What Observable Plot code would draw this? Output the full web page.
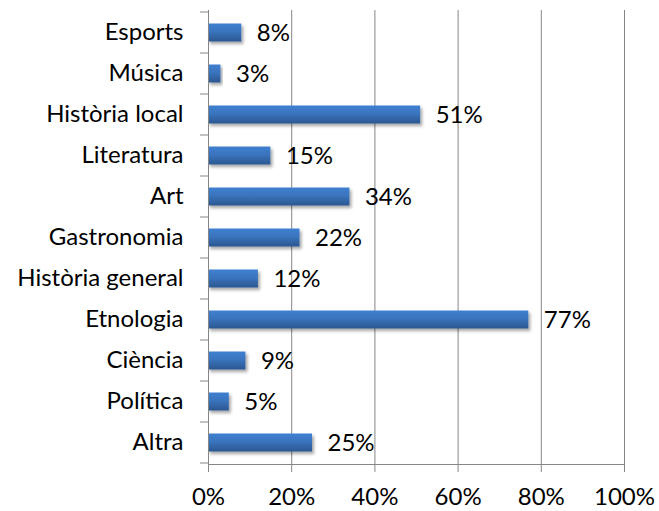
<!DOCTYPE html>
<html>
<head>
<meta charset="utf-8">
<script src="https://cdn.jsdelivr.net/npm/d3@7"></script>
<script src="https://cdn.jsdelivr.net/npm/@observablehq/plot@0.6"></script>
<style>
  body { margin: 0; background: #fff; }
</style>
</head>
<body>
<div id="chart"></div>
<script>
const categories = ["Esports", "Música", "Història local", "Literatura", "Art", "Gastronomia", "Història general", "Etnologia", "Ciència", "Política", "Altra"];
const values = [8, 3, 51, 15, 34, 22, 12, 77, 9, 5, 25];
const xTicks = [0, 20, 40, 60, 80, 100];

const data = categories.map((c, i) => ({category: c, value: values[i]}));

const plot = Plot.plot({
  width: 659,
  height: 511,
  marginLeft: 208,
  marginRight: 35,
  marginTop: 10,
  marginBottom: 47,
  x: {domain: [0, 100], label: null},
  y: {domain: categories, padding: 0, label: null},
  style: {fontFamily: "Lato, 'Open Sans', sans-serif", fontSize: "24px", color: "#000", background: "#fff", overflow: "visible"},
  marks: [
    Plot.gridX(xTicks.slice(1), {stroke: "#868686", strokeOpacity: 1}),
    Plot.barX(data, {x: "value", y: "category", fill: "url(#barGrad)", insetTop: 11.5, insetBottom: 11.5}),
    Plot.text(data, {x: "value", y: "category", text: d => d.value + "%", textAnchor: "start", dx: 15, dy: 0, fontSize: 24, fill: "#000"}),
    Plot.ruleX([0], {stroke: "#868686"}),
    Plot.frame({anchor: "bottom", stroke: "#868686"}),
    Plot.axisX({ticks: xTicks, tickSize: 8, tickPadding: 15, tickFormat: d => d + "%", stroke: "#868686", strokeOpacity: 1, fill: "#000", fontSize: 24, label: null}),
    Plot.axisY({tickSize: 0, tickPadding: 25, dy: -1, fill: "#000", fontSize: 24, label: null})
  ]
});

const svg = d3.select(plot);
const defs = svg.insert("defs", ":first-child");
const grad = defs.append("linearGradient").attr("id", "barGrad").attr("x1", 0).attr("y1", 0).attr("x2", 0).attr("y2", 1);
grad.append("stop").attr("offset", "0%").attr("stop-color", "#3f7fd0");
grad.append("stop").attr("offset", "45%").attr("stop-color", "#3a74bd");
grad.append("stop").attr("offset", "100%").attr("stop-color", "#2b5791");
const filt = defs.append("filter").attr("id", "shadow").attr("x", "-10%").attr("y", "-30%").attr("width", "130%").attr("height", "200%");
filt.append("feDropShadow").attr("dx", 2).attr("dy", 2.5).attr("stdDeviation", 1.8).attr("flood-color", "#000").attr("flood-opacity", 0.35);
svg.selectAll("rect").filter(function() { return this.getAttribute("fill") === "url(#barGrad)" || (this.parentNode && this.parentNode.getAttribute("fill") === "url(#barGrad)"); })
  .attr("filter", "url(#shadow)");

// category boundary ticks on the y axis, positioned with Plot's own scales
const ys = plot.scale("y");
const xs = plot.scale("x");
const x0 = xs.apply(0);
const bounds = categories.map(c => ys.apply(c));
bounds.push(ys.apply(categories[categories.length - 1]) + ys.bandwidth);
svg.append("g").attr("stroke", "#868686").selectAll("line").data(bounds).join("line")
  .attr("x1", x0 - 8).attr("x2", x0).attr("y1", d => d).attr("y2", d => d);

document.getElementById("chart").appendChild(plot);
</script>
</body>
</html>
